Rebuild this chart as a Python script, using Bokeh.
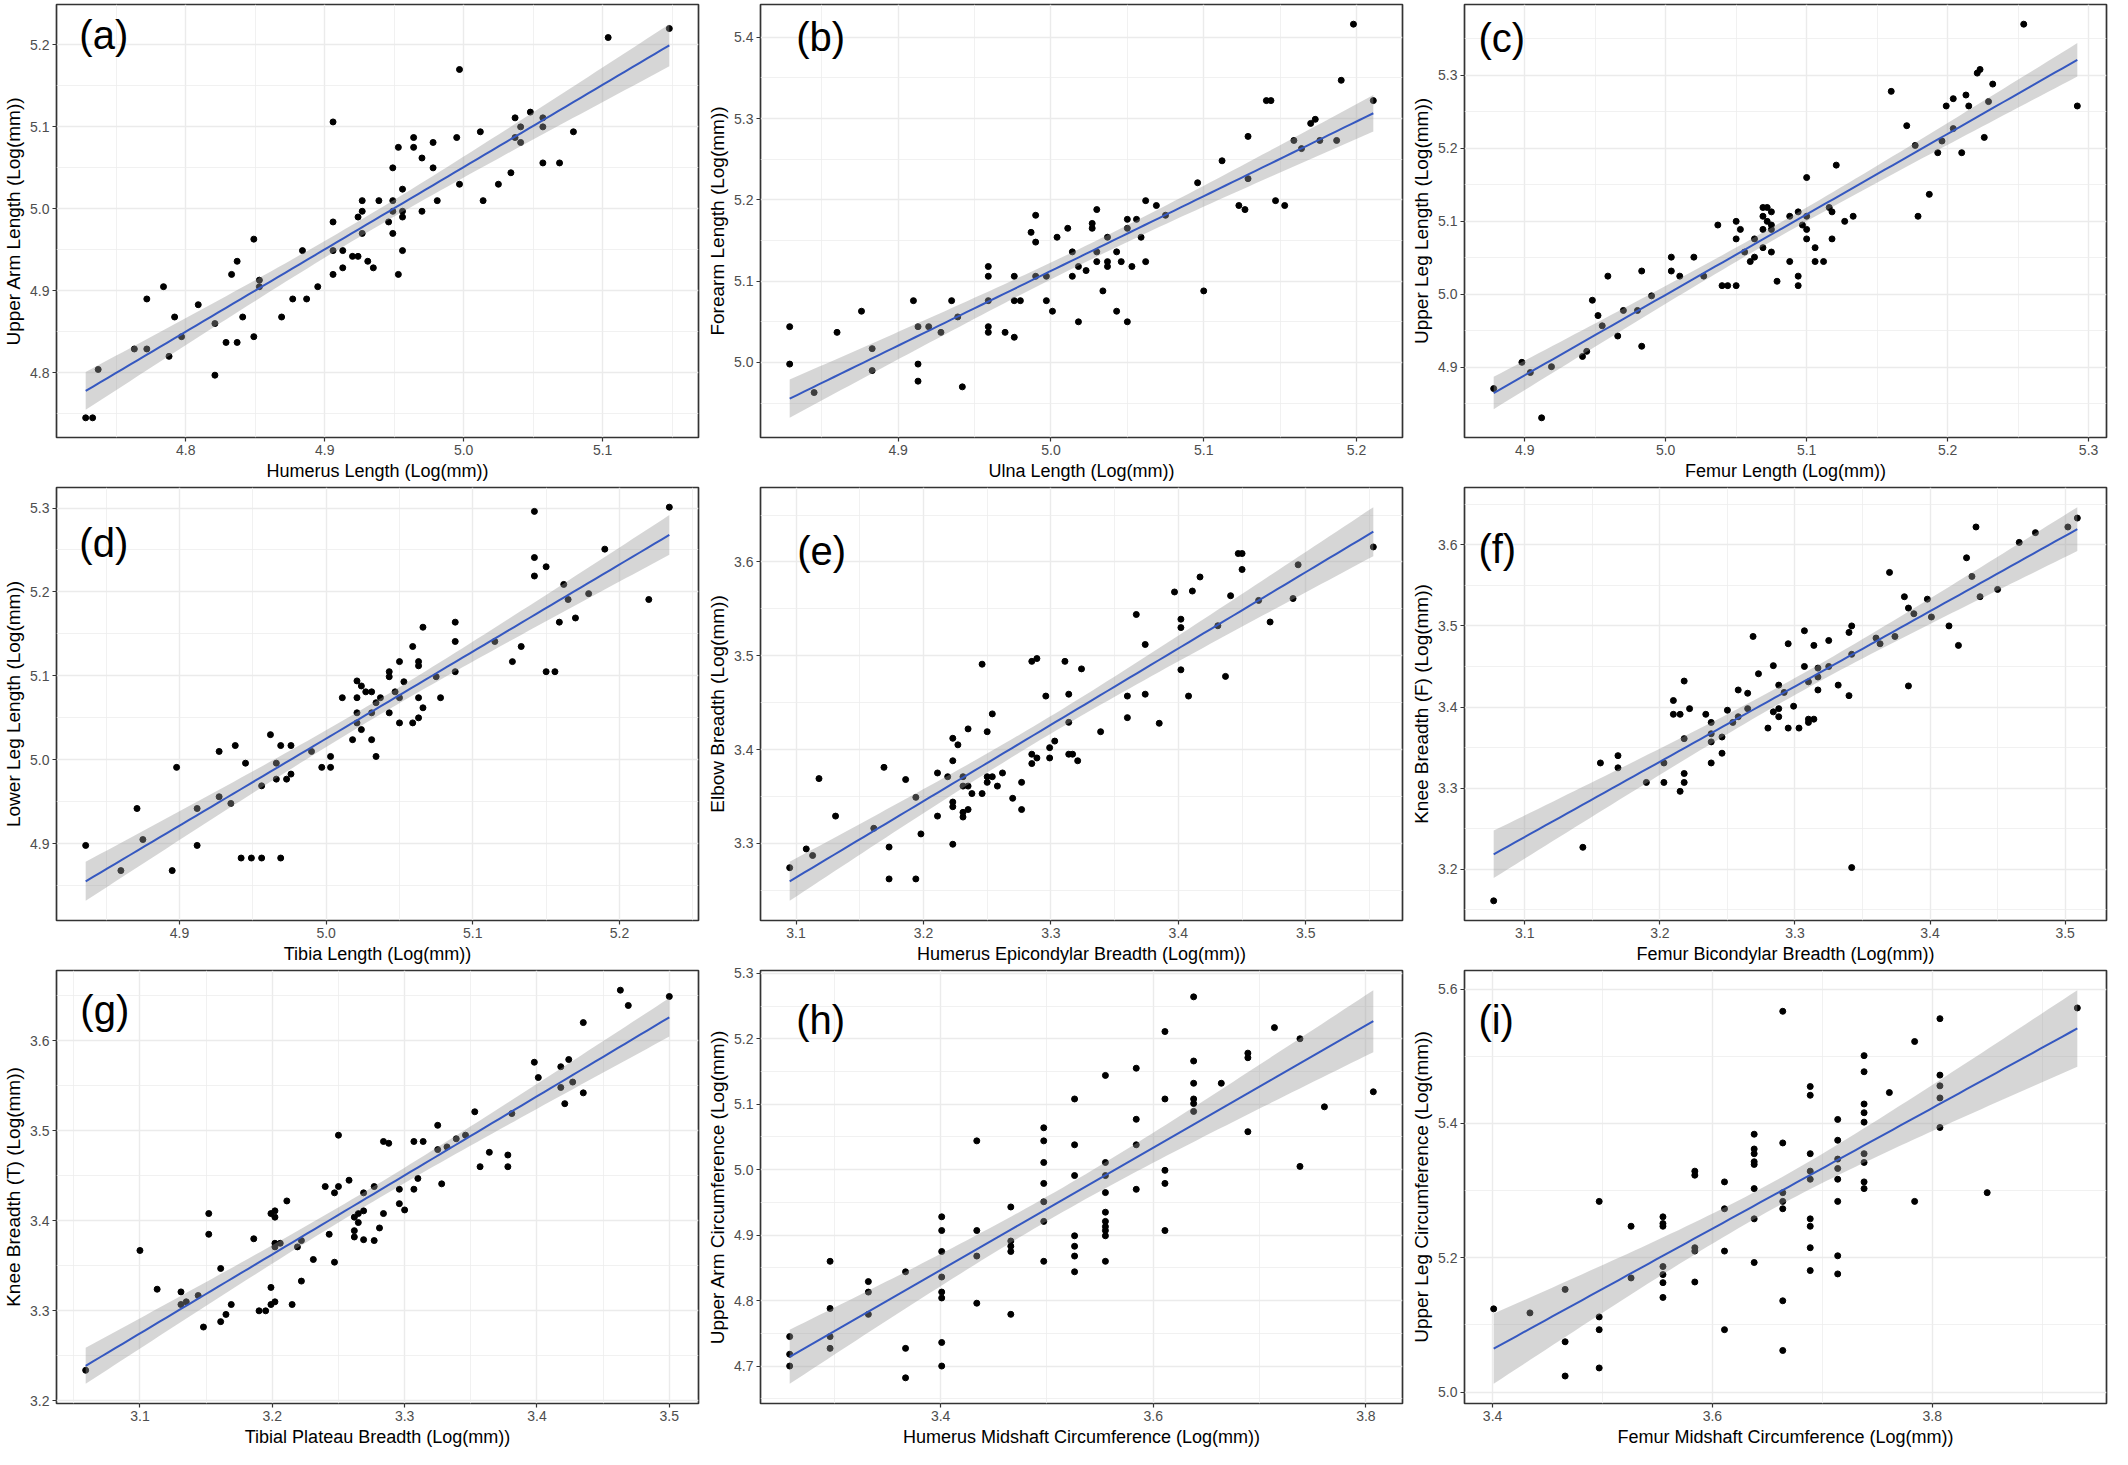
import numpy as np
from bokeh.plotting import figure
from bokeh.layouts import gridplot
from bokeh.models import FixedTicker, PrintfTickFormatter, Label
from bokeh.embed import file_html
from bokeh.resources import INLINE

# ---------------- data (log mm) ----------------
a_x = [4.728, 4.733, 4.737, 4.763, 4.772, 4.772, 4.784, 4.788, 4.792, 4.797,
       4.809, 4.821, 4.821, 4.829, 4.833, 4.837, 4.837, 4.841, 4.849, 4.849,
       4.853, 4.853, 4.869, 4.877, 4.884, 4.887, 4.895, 4.906, 4.906, 4.906,
       4.906, 4.913, 4.913, 4.920, 4.924, 4.924, 4.927, 4.927, 4.927, 4.931,
       4.935, 4.939, 4.946, 4.949, 4.949, 4.949, 4.949, 4.953, 4.953, 4.956,
       4.956, 4.956, 4.956, 4.964, 4.964, 4.970, 4.970, 4.978, 4.978, 4.981,
       4.995, 4.997, 4.997, 5.012, 5.014, 5.025, 5.034, 5.037, 5.037, 5.041,
       5.041, 5.048, 5.057, 5.057, 5.057, 5.069, 5.079, 5.104, 5.148]
a_y = [4.745, 4.745, 4.804, 4.829, 4.829, 4.890, 4.905, 4.820, 4.868, 4.844,
       4.883, 4.860, 4.797, 4.837, 4.920, 4.936, 4.837, 4.868, 4.963, 4.844,
       4.913, 4.905, 4.868, 4.890, 4.949, 4.890, 4.905, 4.984, 5.106, 4.949,
       4.920, 4.949, 4.928, 4.942, 4.942, 4.990, 5.010, 4.997, 4.970, 4.936,
       4.928, 5.010, 4.984, 5.050, 5.010, 4.997, 4.970, 5.075, 4.920, 5.024,
       4.997, 4.990, 4.949, 5.087, 5.075, 5.062, 4.997, 5.081, 5.050, 5.010,
       5.087, 5.170, 5.030, 5.094, 5.010, 5.030, 5.044, 5.111, 5.087, 5.100,
       5.081, 5.118, 5.111, 5.100, 5.056, 5.056, 5.094, 5.209, 5.220]

b_x = [4.829, 4.829, 4.845, 4.860, 4.876, 4.883, 4.883, 4.910, 4.913, 4.913,
       4.913, 4.920, 4.928, 4.935, 4.939, 4.942, 4.959, 4.959, 4.959, 4.959,
       4.959, 4.970, 4.976, 4.976, 4.976, 4.980, 4.987, 4.990, 4.990, 4.990,
       4.997, 4.997, 5.001, 5.004, 5.011, 5.014, 5.014, 5.018, 5.018, 5.023,
       5.027, 5.027, 5.030, 5.030, 5.030, 5.034, 5.037, 5.037, 5.037, 5.043,
       5.043, 5.046, 5.050, 5.050, 5.050, 5.053, 5.056, 5.059, 5.062, 5.062,
       5.069, 5.075, 5.096, 5.100, 5.112, 5.123, 5.127, 5.129, 5.129, 5.141,
       5.144, 5.147, 5.153, 5.159, 5.164, 5.170, 5.173, 5.176, 5.187, 5.190,
       5.198, 5.211]
b_y = [5.044, 4.998, 4.963, 5.037, 5.063, 5.017, 4.990, 5.076, 5.044, 4.998,
       4.977, 5.044, 5.037, 5.076, 5.056, 4.970, 5.118, 5.106, 5.076, 5.044,
       5.037, 5.037, 5.106, 5.076, 5.031, 5.076, 5.160, 5.181, 5.148, 5.106,
       5.106, 5.076, 5.063, 5.154, 5.165, 5.136, 5.106, 5.118, 5.050, 5.113,
       5.171, 5.165, 5.188, 5.136, 5.124, 5.088, 5.154, 5.124, 5.118, 5.136,
       5.063, 5.124, 5.176, 5.165, 5.050, 5.118, 5.176, 5.154, 5.199, 5.124,
       5.193, 5.181, 5.221, 5.088, 5.248, 5.193, 5.188, 5.278, 5.226, 5.322,
       5.322, 5.199, 5.193, 5.273, 5.263, 5.294, 5.299, 5.273, 5.273, 5.347,
       5.416, 5.322]

c_x = [4.878, 4.898, 4.904, 4.912, 4.919, 4.941, 4.944, 4.948, 4.952, 4.955,
       4.959, 4.966, 4.970, 4.980, 4.983, 4.983, 4.990, 5.004, 5.004, 5.010,
       5.020, 5.027, 5.037, 5.040, 5.044, 5.050, 5.050, 5.050, 5.053, 5.056,
       5.060, 5.063, 5.063, 5.069, 5.069, 5.069, 5.069, 5.072, 5.072, 5.075,
       5.075, 5.075, 5.075, 5.079, 5.088, 5.088, 5.094, 5.094, 5.094, 5.097,
       5.100, 5.100, 5.100, 5.100, 5.106, 5.106, 5.112, 5.116, 5.118, 5.118,
       5.121, 5.127, 5.133, 5.160, 5.171, 5.177, 5.179, 5.187, 5.193, 5.196,
       5.199, 5.204, 5.204, 5.210, 5.213, 5.215, 5.221, 5.223, 5.226, 5.229,
       5.232, 5.254, 5.292]
c_y = [4.871, 4.907, 4.893, 4.831, 4.901, 4.915, 4.922, 4.992, 4.971, 4.957,
       5.025, 4.943, 4.978, 4.978, 5.032, 4.929, 4.998, 5.051, 5.032, 5.025,
       5.051, 5.025, 5.095, 5.012, 5.012, 5.100, 5.076, 5.012, 5.089, 5.058,
       5.045, 5.076, 5.051, 5.119, 5.107, 5.089, 5.064, 5.119, 5.100, 5.113,
       5.095, 5.089, 5.058, 5.018, 5.107, 5.045, 5.113, 5.025, 5.012, 5.095,
       5.160, 5.107, 5.089, 5.076, 5.064, 5.045, 5.045, 5.119, 5.113, 5.076,
       5.177, 5.100, 5.107, 5.278, 5.231, 5.204, 5.107, 5.137, 5.194, 5.210,
       5.258, 5.268, 5.227, 5.194, 5.273, 5.258, 5.303, 5.308, 5.215, 5.264,
       5.288, 5.370, 5.258]

d_x = [4.836, 4.860, 4.871, 4.875, 4.895, 4.898, 4.912, 4.912, 4.927, 4.927,
       4.935, 4.938, 4.942, 4.945, 4.949, 4.956, 4.956, 4.962, 4.966, 4.966,
       4.969, 4.969, 4.973, 4.976, 4.976, 4.990, 4.997, 5.003, 5.003, 5.011,
       5.018, 5.021, 5.021, 5.021, 5.021, 5.024, 5.024, 5.027, 5.031, 5.031,
       5.031, 5.034, 5.034, 5.037, 5.043, 5.043, 5.043, 5.047, 5.050, 5.050,
       5.050, 5.053, 5.059, 5.059, 5.063, 5.063, 5.063, 5.063, 5.066, 5.066,
       5.075, 5.078, 5.088, 5.088, 5.088, 5.115, 5.127, 5.133, 5.142, 5.142,
       5.142, 5.150, 5.150, 5.156, 5.159, 5.162, 5.165, 5.170, 5.179, 5.190,
       5.220, 5.234]
d_y = [4.898, 4.868, 4.942, 4.905, 4.868, 4.991, 4.942, 4.898, 5.010, 4.956,
       4.948, 5.017, 4.883, 4.996, 4.883, 4.969, 4.883, 5.030, 4.996, 4.977,
       5.017, 4.883, 4.977, 5.017, 4.983, 5.010, 4.991, 5.004, 4.991, 5.074,
       5.024, 5.094, 5.074, 5.056, 5.044, 5.088, 5.036, 5.081, 5.081, 5.056,
       5.024, 5.068, 5.004, 5.074, 5.105, 5.099, 5.056, 5.081, 5.117, 5.074,
       5.044, 5.093, 5.135, 5.044, 5.117, 5.112, 5.074, 5.050, 5.158, 5.062,
       5.099, 5.074, 5.164, 5.141, 5.105, 5.141, 5.117, 5.135, 5.296, 5.241,
       5.219, 5.230, 5.105, 5.105, 5.164, 5.209, 5.191, 5.169, 5.198, 5.251,
       5.191, 5.301]

e_x = [3.095, 3.108, 3.113, 3.118, 3.131, 3.161, 3.169, 3.173, 3.173, 3.186,
       3.194, 3.194, 3.198, 3.211, 3.211, 3.219, 3.223, 3.223, 3.223, 3.223,
       3.223, 3.227, 3.231, 3.231, 3.231, 3.231, 3.235, 3.235, 3.235, 3.238,
       3.246, 3.246, 3.250, 3.250, 3.250, 3.254, 3.254, 3.258, 3.262, 3.270,
       3.277, 3.277, 3.285, 3.285, 3.285, 3.289, 3.289, 3.296, 3.299, 3.299,
       3.303, 3.311, 3.314, 3.314, 3.314, 3.317, 3.321, 3.324, 3.339, 3.360,
       3.360, 3.367, 3.374, 3.374, 3.385, 3.397, 3.402, 3.402, 3.402, 3.408,
       3.411, 3.417, 3.431, 3.437, 3.441, 3.447, 3.450, 3.450, 3.463, 3.472,
       3.490, 3.494, 3.553]
e_y = [3.274, 3.294, 3.287, 3.369, 3.329, 3.316, 3.381, 3.296, 3.262, 3.368,
       3.349, 3.262, 3.310, 3.375, 3.329, 3.371, 3.412, 3.388, 3.344, 3.339,
       3.299, 3.405, 3.371, 3.361, 3.333, 3.328, 3.422, 3.361, 3.336, 3.353,
       3.491, 3.353, 3.419, 3.371, 3.365, 3.438, 3.371, 3.361, 3.375, 3.348,
       3.365, 3.336, 3.494, 3.395, 3.385, 3.497, 3.391, 3.457, 3.402, 3.391,
       3.409, 3.494, 3.459, 3.429, 3.395, 3.395, 3.388, 3.486, 3.419, 3.457,
       3.434, 3.544, 3.512, 3.459, 3.428, 3.568, 3.539, 3.530, 3.485, 3.457,
       3.569, 3.584, 3.532, 3.478, 3.564, 3.609, 3.609, 3.592, 3.559, 3.536,
       3.561, 3.597, 3.616]

f_x = [3.077, 3.143, 3.156, 3.169, 3.169, 3.190, 3.203, 3.203, 3.210, 3.210,
       3.215, 3.215, 3.218, 3.218, 3.218, 3.218, 3.222, 3.234, 3.238, 3.238,
       3.238, 3.238, 3.246, 3.246, 3.250, 3.254, 3.258, 3.258, 3.265, 3.265,
       3.269, 3.273, 3.280, 3.284, 3.284, 3.288, 3.288, 3.288, 3.292, 3.295,
       3.295, 3.299, 3.303, 3.307, 3.307, 3.310, 3.310, 3.310, 3.314, 3.314,
       3.317, 3.317, 3.317, 3.325, 3.325, 3.332, 3.340, 3.340, 3.342, 3.342,
       3.342, 3.360, 3.363, 3.370, 3.374, 3.381, 3.384, 3.384, 3.388, 3.398,
       3.401, 3.414, 3.421, 3.427, 3.431, 3.434, 3.437, 3.450, 3.466, 3.478,
       3.502, 3.509]
f_y = [3.161, 3.227, 3.331, 3.340, 3.325, 3.307, 3.331, 3.307, 3.408, 3.391,
       3.391, 3.296, 3.432, 3.361, 3.318, 3.307, 3.398, 3.391, 3.381, 3.367,
       3.357, 3.331, 3.363, 3.343, 3.396, 3.381, 3.388, 3.421, 3.417, 3.398,
       3.487, 3.441, 3.374, 3.451, 3.394, 3.427, 3.398, 3.388, 3.418, 3.478,
       3.374, 3.401, 3.374, 3.494, 3.450, 3.431, 3.381, 3.385, 3.476, 3.385,
       3.448, 3.437, 3.421, 3.482, 3.450, 3.427, 3.492, 3.414, 3.500, 3.465,
       3.202, 3.485, 3.478, 3.566, 3.487, 3.536, 3.522, 3.426, 3.515, 3.533,
       3.511, 3.500, 3.476, 3.584, 3.561, 3.622, 3.536, 3.545, 3.603, 3.615,
       3.622, 3.633]

g_x = [3.059, 3.100, 3.113, 3.131, 3.131, 3.135, 3.144, 3.148, 3.152, 3.152,
       3.161, 3.161, 3.165, 3.169, 3.186, 3.190, 3.195, 3.199, 3.199, 3.199,
       3.202, 3.202, 3.202, 3.202, 3.202, 3.206, 3.211, 3.215, 3.219, 3.222,
       3.222, 3.231, 3.240, 3.243, 3.247, 3.247, 3.250, 3.250, 3.258, 3.262,
       3.262, 3.262, 3.265, 3.265, 3.269, 3.269, 3.269, 3.277, 3.277, 3.281,
       3.284, 3.284, 3.288, 3.296, 3.296, 3.300, 3.307, 3.307, 3.310, 3.314,
       3.325, 3.325, 3.328, 3.332, 3.339, 3.346, 3.353, 3.357, 3.364, 3.378,
       3.378, 3.381, 3.398, 3.401, 3.418, 3.418, 3.421, 3.424, 3.427, 3.435,
       3.435, 3.463, 3.469, 3.500]
g_y = [3.234, 3.367, 3.324, 3.321, 3.307, 3.310, 3.317, 3.282, 3.408, 3.385,
       3.347, 3.288, 3.296, 3.307, 3.380, 3.300, 3.300, 3.408, 3.326, 3.307,
       3.411, 3.404, 3.375, 3.371, 3.310, 3.375, 3.422, 3.307, 3.371, 3.378,
       3.333, 3.357, 3.438, 3.385, 3.431, 3.354, 3.495, 3.438, 3.445, 3.404,
       3.389, 3.382, 3.398, 3.408, 3.431, 3.411, 3.379, 3.438, 3.378, 3.392,
       3.488, 3.408, 3.486, 3.435, 3.419, 3.412, 3.488, 3.435, 3.447, 3.488,
       3.506, 3.479, 3.441, 3.482, 3.491, 3.495, 3.521, 3.460, 3.476, 3.473,
       3.460, 3.519, 3.576, 3.559, 3.571, 3.548, 3.530, 3.579, 3.554, 3.620,
       3.542, 3.656, 3.639, 3.649]

h_x = [3.258, 3.258, 3.258, 3.296, 3.296, 3.296, 3.296, 3.332, 3.332, 3.332,
       3.367, 3.367, 3.367, 3.401, 3.401, 3.401, 3.401, 3.401, 3.401, 3.401,
       3.401, 3.434, 3.434, 3.434, 3.434, 3.466, 3.466, 3.466, 3.466, 3.466,
       3.497, 3.497, 3.497, 3.497, 3.497, 3.497, 3.497, 3.526, 3.526, 3.526,
       3.526, 3.526, 3.526, 3.526, 3.555, 3.555, 3.555, 3.555, 3.555, 3.555,
       3.555, 3.555, 3.555, 3.555, 3.584, 3.584, 3.584, 3.584, 3.611, 3.611,
       3.611, 3.611, 3.611, 3.638, 3.638, 3.638, 3.638, 3.638, 3.638, 3.664,
       3.689, 3.689, 3.689, 3.714, 3.738, 3.738, 3.761, 3.807]
h_y = [4.745, 4.718, 4.700, 4.860, 4.788, 4.745, 4.727, 4.829, 4.813, 4.779,
       4.844, 4.727, 4.682, 4.928, 4.907, 4.875, 4.836, 4.813, 4.804, 4.736,
       4.700, 5.044, 4.907, 4.868, 4.796, 4.943, 4.891, 4.883, 4.875, 4.779,
       5.064, 5.044, 5.011, 4.979, 4.951, 4.921, 4.860, 5.108, 5.038, 4.991,
       4.899, 4.883, 4.868, 4.844, 5.144, 5.011, 4.991, 4.965, 4.935, 4.921,
       4.913, 4.907, 4.899, 4.860, 5.155, 5.077, 5.038, 4.970, 5.211, 5.108,
       4.999, 4.979, 4.907, 5.264, 5.166, 5.132, 5.108, 5.101, 5.089, 5.132,
       5.178, 5.171, 5.058, 5.217, 5.200, 5.005, 5.096, 5.119]

i_x = [3.401, 3.434, 3.466, 3.466, 3.466, 3.497, 3.497, 3.497, 3.497, 3.526,
       3.526, 3.555, 3.555, 3.555, 3.555, 3.555, 3.555, 3.555, 3.584, 3.584,
       3.584, 3.584, 3.584, 3.611, 3.611, 3.611, 3.611, 3.638, 3.638, 3.638,
       3.638, 3.638, 3.638, 3.638, 3.638, 3.664, 3.664, 3.664, 3.664, 3.664,
       3.664, 3.664, 3.689, 3.689, 3.689, 3.689, 3.689, 3.689, 3.689, 3.689,
       3.689, 3.714, 3.714, 3.714, 3.714, 3.714, 3.714, 3.714, 3.714, 3.738,
       3.738, 3.738, 3.738, 3.738, 3.738, 3.738, 3.738, 3.738, 3.761, 3.784,
       3.784, 3.807, 3.807, 3.807, 3.807, 3.807, 3.850, 3.932]
i_y = [5.124, 5.118, 5.153, 5.075, 5.024, 5.284, 5.112, 5.093, 5.036, 5.247,
       5.170, 5.261, 5.251, 5.247, 5.187, 5.175, 5.163, 5.141, 5.329, 5.323,
       5.215, 5.210, 5.164, 5.313, 5.273, 5.210, 5.093, 5.384, 5.362, 5.355,
       5.343, 5.339, 5.303, 5.258, 5.193, 5.567, 5.371, 5.297, 5.284, 5.273,
       5.136, 5.062, 5.455, 5.442, 5.355, 5.329, 5.317, 5.258, 5.247, 5.215,
       5.181, 5.406, 5.375, 5.347, 5.333, 5.317, 5.284, 5.203, 5.176, 5.501,
       5.477, 5.429, 5.416, 5.402, 5.355, 5.342, 5.313, 5.303, 5.446, 5.522,
       5.284, 5.556, 5.472, 5.456, 5.438, 5.394, 5.297, 5.572]

panel_tags = ["(a)", "(b)", "(c)", "(d)", "(e)", "(f)", "(g)", "(h)", "(i)"]
x_titles = ["Humerus Length (Log(mm))", "Ulna Length (Log(mm))", "Femur Length (Log(mm))",
            "Tibia Length (Log(mm))", "Humerus Epicondylar Breadth (Log(mm))",
            "Femur Bicondylar Breadth (Log(mm))", "Tibial Plateau Breadth (Log(mm))",
            "Humerus Midshaft Circumference (Log(mm))", "Femur Midshaft Circumference (Log(mm))"]
y_titles = ["Upper Arm Length (Log(mm))", "Forearm Length (Log(mm))", "Upper Leg Length (Log(mm))",
            "Lower Leg Length (Log(mm))", "Elbow Breadth (Log(mm))", "Knee Breadth (F) (Log(mm))",
            "Knee Breadth (T) (Log(mm))", "Upper Arm Circumference (Log(mm))",
            "Upper Leg Circumference (Log(mm))"]
x_steps = [0.1, 0.1, 0.1, 0.1, 0.1, 0.1, 0.1, 0.2, 0.2]
y_steps = [0.1, 0.1, 0.1, 0.1, 0.1, 0.1, 0.1, 0.1, 0.2]
series = [(a_x, a_y), (b_x, b_y), (c_x, c_y), (d_x, d_y), (e_x, e_y),
          (f_x, f_y), (g_x, g_y), (h_x, h_y), (i_x, i_y)]

# ---------------- layout / style ----------------
W, H = 704, 483
BL, BR, BT, BB = 52, 6, 4, 46
FW, FH = W - BL - BR, H - BT - BB
# panel-tag anchor offset from frame top-left (px)
tag_offsets = [(23, 8), (36, 10), (14, 11), (23, 33), (37, 41), (14, 39), (24, 17), (36, 27), (14, 27)]
FONT = "Liberation Sans"
T_CRIT = 1.99


def lm_band(x, y, n=80):
    x = np.asarray(x, float)
    y = np.asarray(y, float)
    b, a = np.polyfit(x, y, 1)
    xs = np.linspace(x.min(), x.max(), n)
    fit = a + b * xs
    s = np.sqrt(np.sum((y - (a + b * x)) ** 2) / (len(x) - 2))
    se = s * np.sqrt(1.0 / len(x) + (xs - x.mean()) ** 2 / np.sum((x - x.mean()) ** 2))
    return xs, fit, fit - T_CRIT * se, fit + T_CRIT * se


def expand(lo, hi):
    d = (hi - lo) * 0.05
    return lo - d, hi + d


def make_ticks(lo, hi, step):
    k0, k1 = int(np.ceil(lo / step - 1e-9)), int(np.floor(hi / step + 1e-9))
    major = [round(k * step, 3) for k in range(k0, k1 + 1)]
    m0, m1 = int(np.ceil(lo / step - 0.5 - 1e-9)), int(np.floor(hi / step - 0.5 + 1e-9))
    minor = [round((k + 0.5) * step, 3) for k in range(m0, m1 + 1)]
    return FixedTicker(ticks=major, minor_ticks=minor)


figs = []
for k, (xv, yv) in enumerate(series):
    xs, fit, lo, hi = lm_band(xv, yv)
    x0, x1 = expand(min(xv), max(xv))
    y0, y1 = expand(min(min(yv), lo.min()), max(max(yv), hi.max()))

    p = figure(width=W, height=H, x_range=(x0, x1), y_range=(y0, y1),
               output_backend="svg", toolbar_location=None,
               min_border_left=BL, min_border_right=BR, min_border_top=BT, min_border_bottom=BB,
               background_fill_color="white", border_fill_color="white",
               outline_line_color="#333333", outline_line_width=1.7)

    xt = make_ticks(x0, x1, x_steps[k])
    yt = make_ticks(y0, y1, y_steps[k])
    p.xaxis.ticker = xt
    p.yaxis.ticker = yt
    p.xgrid.ticker = xt
    p.ygrid.ticker = yt
    for g in (p.xgrid, p.ygrid):
        g.grid_line_color = "#ebebeb"
        g.grid_line_width = 1.4
        g.minor_grid_line_color = "#ededed"
        g.minor_grid_line_width = 0.8

    for ax in (p.xaxis, p.yaxis):
        ax.axis_line_color = None
        ax.major_tick_line_color = "#333333"
        ax.major_tick_line_width = 1.2
        ax.major_tick_out = 4
        ax.major_tick_in = 0
        ax.minor_tick_line_color = None
        ax.formatter = PrintfTickFormatter(format="%.1f")
        ax.major_label_text_font = FONT
        ax.major_label_text_font_size = "14px"
        ax.major_label_text_color = "#4d4d4d"
        ax.major_label_standoff = 3
        ax.axis_label_text_font = FONT
        ax.axis_label_text_font_style = "normal"
        ax.axis_label_text_color = "#000000"
        ax.axis_label_standoff = 3
    p.xaxis.axis_label = x_titles[k]
    p.yaxis.axis_label = y_titles[k]
    p.xaxis.axis_label_text_font_size = "18px"
    p.yaxis.axis_label_text_font_size = "19px"

    p.scatter(xv, yv, size=6, color="black")
    p.varea(x=xs, y1=lo, y2=hi, fill_color="#999999", fill_alpha=0.4)
    p.line(xs, fit, line_color="#3558c0", line_width=2)

    dx, dy = tag_offsets[k]
    p.add_layout(Label(x=x0 + dx * (x1 - x0) / FW, y=y1 - dy * (y1 - y0) / FH,
                       text=panel_tags[k], text_font=FONT, text_font_size="40px",
                       text_color="black", text_align="left", text_baseline="top"))
    figs.append(p)

grid = gridplot(figs, ncols=3, toolbar_location=None)
open("out.html", "w").write(file_html(grid, INLINE))
